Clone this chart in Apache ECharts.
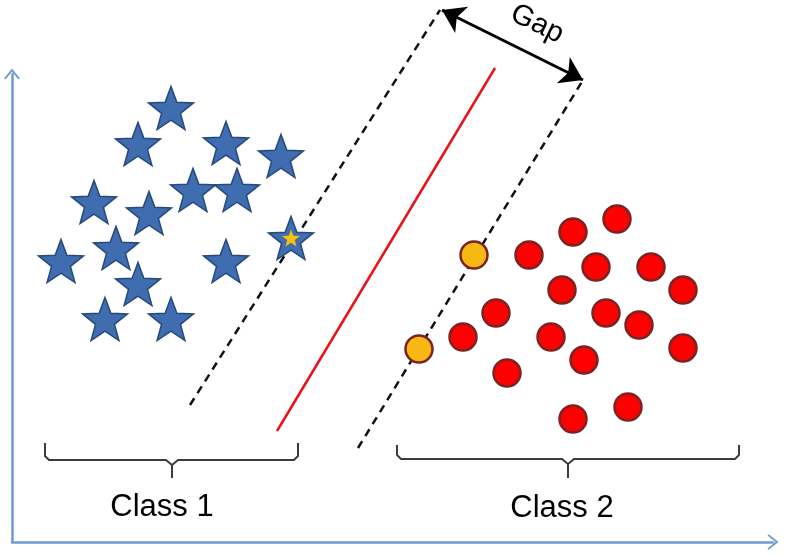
<!DOCTYPE html>
<html>
<head>
<meta charset="utf-8">
<script src="https://cdn.jsdelivr.net/npm/echarts@6/dist/echarts.min.js"></script>
<style>
  html, body { margin: 0; padding: 0; background: #fff; }
  #chart { width: 785px; height: 554px; }
</style>
</head>
<body>
<div id="chart"></div>
<script>
// class 1 (stars) and class 2 (circles), axis units
var class1 = [
  [159, 434], [126, 398], [214, 399], [269, 386], [181, 352], [225, 352],
  [82, 340], [137, 329], [104, 294], [49, 281], [214, 281], [126, 258],
  [93, 223], [159, 223]
];
var class1Support = [[279, 304]];
var class2 = [
  [517, 287], [561, 310], [605, 323], [584, 275], [639, 275], [550, 252],
  [671, 252], [484, 229], [594, 229], [627, 217], [451, 205], [539, 205],
  [671, 194], [572, 182], [495, 169], [616, 135], [561, 123]
];
var class2Support = [[462, 287], [407, 193]];

// separating line and margins
var hyperplane = [[265, 111], [483, 474]];
var marginLeft = [[178, 137], [428, 532]];
var marginRight = [[346, 94], [571, 462]];
var gapArrow = [[430, 532], [571, 462]];

// curly brackets under each class
var bracket1 = [[33, 99], [33, 86], [37, 82], [154, 82], [160, 77], [160, 64],
  [160, 77], [166, 82], [282, 82], [286, 86], [286, 99]];
var bracket2 = [[385, 97], [385, 87], [389, 83], [550, 83], [556, 78], [556, 64],
  [556, 78], [562, 83], [723, 83], [727, 87], [727, 97]];

var classLabels = [
  { value: [150, 35], name: 'Class 1' },
  { value: [550, 34], name: 'Class 2' }
];
var gapLabel = [{ value: [525, 518], name: 'Gap' }];

function starPath() {
  var d = '';
  for (var k = 0; k < 10; k++) {
    var a = (-90 + 36 * k) * Math.PI / 180;
    var rad = k % 2 ? 21 : 50;
    d += (k ? 'L' : 'M') + (50 + rad * Math.cos(a)).toFixed(2) + ',' + (50 + rad * Math.sin(a)).toFixed(2);
  }
  return 'path://' + d + 'Z';
}
var star = starPath();

var chart = echarts.init(document.getElementById('chart'));

var axisStyle = {
  show: true,
  symbol: ['none', 'path://M0,10 L8,0 L16,10 L14.5,11.2 L8,3 L1.5,11.2 Z'],
  symbolSize: [16, 11],
  lineStyle: { color: '#6e9bd2', width: 2.5 }
};

function seg(data, color, dash, width) {
  return {
    type: 'line', data: data, symbol: 'none', clip: false, silent: true,
    lineStyle: { color: color, width: width || 2.5, type: dash || 'solid' },
    z: 2
  };
}

var font = 'Liberation Sans, Arial, sans-serif';

chart.setOption({
  backgroundColor: '#fff',
  animation: false,
  grid: { left: 12, right: 12, top: 74, bottom: 12 },
  xAxis: {
    type: 'value', min: 0, max: 761,
    axisLine: axisStyle,
    axisTick: { show: false }, axisLabel: { show: false }, splitLine: { show: false }
  },
  yAxis: {
    type: 'value', min: 0, max: 468,
    axisLine: axisStyle,
    axisTick: { show: false }, axisLabel: { show: false }, splitLine: { show: false }
  },
  series: [
    seg(hyperplane, '#e8141b'),
    seg(marginLeft, '#111', [8, 6]),
    seg(marginRight, '#111', [8, 6]),
    seg(bracket1, '#3c3c3c', 'solid', 2),
    seg(bracket2, '#3c3c3c', 'solid', 2),
    {
      type: 'lines', coordinateSystem: 'cartesian2d', clip: false, silent: true,
      symbol: ['arrow', 'arrow'], symbolSize: 22,
      lineStyle: { color: '#000', width: 3, opacity: 1 },
      data: [{ coords: gapArrow }],
      z: 3
    },
    {
      type: 'scatter', data: class1, symbol: star, symbolSize: [45, 43],
      itemStyle: { color: '#3f6db0', borderColor: '#264a7c', borderWidth: 1.5, opacity: 1 },
      z: 5
    },
    {
      type: 'scatter', data: class1Support, symbol: star, symbolSize: [45, 43],
      itemStyle: { color: '#3f6db0', borderColor: '#264a7c', borderWidth: 1.5, opacity: 1 },
      z: 5
    },
    {
      type: 'scatter', data: class1Support, symbol: star, symbolSize: [18, 17],
      itemStyle: { color: '#f7c10f', opacity: 1 },
      z: 6
    },
    {
      type: 'scatter', data: class2, symbol: 'circle', symbolSize: 27,
      itemStyle: { color: '#ff0000', borderColor: '#7a2424', borderWidth: 2.5, opacity: 1 },
      z: 5
    },
    {
      type: 'scatter', data: class2Support, symbol: 'circle', symbolSize: 27,
      itemStyle: { color: '#f6b811', borderColor: '#7a2424', borderWidth: 2.5, opacity: 1 },
      z: 5
    },
    {
      type: 'scatter', data: classLabels, symbolSize: 0, silent: true,
      itemStyle: { opacity: 1 },
      label: {
        show: true, position: 'inside', formatter: '{b}',
        color: '#000', fontSize: 31, fontFamily: font
      }
    },
    {
      type: 'scatter', data: gapLabel, symbolSize: 0, silent: true, clip: false,
      itemStyle: { opacity: 1 },
      label: {
        show: true, position: 'inside', formatter: '{b}', rotate: -26,
        color: '#000', fontSize: 29, fontFamily: font
      }
    }
  ]
});
</script>
</body>
</html>
